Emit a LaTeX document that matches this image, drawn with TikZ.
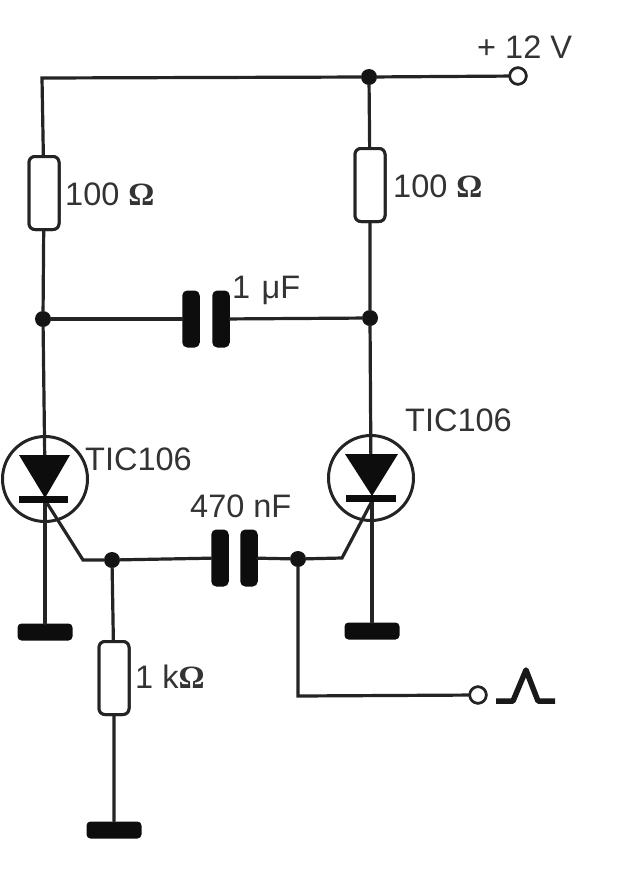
\documentclass[tikz,border=0pt]{standalone}
\usepackage{fontspec}
\setmainfont{Liberation Sans}
\newfontfamily\symfont{Liberation Serif}
\begin{document}
\begin{tikzpicture}[x=1pt,y=-1pt,
  wire/.style={line width=3.2pt,color=black!86,line cap=round,line join=miter},
  res/.style={draw=black!86,fill=white,line width=3pt,rounded corners=6pt,minimum width=30pt,minimum height=73pt,inner sep=0pt},
  dot/.style={circle,fill=black!92,inner sep=0pt,minimum size=16pt},
  term/.style={circle,draw=black!86,fill=white,line width=2.6pt,inner sep=0pt,minimum size=16.5pt},
  plate/.style={fill=black!95,rounded corners=5pt,inner sep=0pt,minimum width=17.5pt,minimum height=57pt},
  gnd/.style={fill=black!95,rounded corners=4pt,inner sep=0pt,minimum width=55pt,minimum height=17pt},
  ring/.style={circle,draw=black!86,line width=3pt,inner sep=0pt,minimum size=85pt},
  lab/.style={font=\fontsize{32.5}{34}\selectfont,color=black!80,inner sep=0pt,anchor=base west},
  sym/.style={fill=black!95}]
\useasboundingbox (0,0) rectangle (617,884);
\fill[white] (0,0) rectangle (617,884);
% nodes
\node[dot] (top) at (369,77) {};
\node[term] (vcc) at (518,76) {};
\coordinate (tl) at (42,78);
\node[res] (r1) at (44,193) {};
\node[res] (r2) at (370,185) {};
\node[res] (r3) at (114,678) {};
\node[dot] (a) at (43,319) {};
\node[dot] (b) at (370,318) {};
\node[plate] (c1a) at (191,319) {};
\node[plate] (c1b) at (221,319) {};
\node[ring] (t1) at (45,479) {};
\node[ring] (t2) at (371,478) {};
\node[gnd] (g1) at (45,632) {};
\node[gnd] (g2) at (372,631) {};
\node[gnd] (g3) at (114,830) {};
\node[dot] (j1) at (112,560) {};
\node[dot] (j2) at (298,559) {};
\node[plate] (c2a) at (220,558) {};
\node[plate] (c2b) at (249,558) {};
\node[term] (in) at (478,695) {};
\coordinate (ic) at (298,696);
\coordinate (k1) at (45,500);
\coordinate (k2) at (372,498);
\coordinate (g1a) at (47,503);
\coordinate (g1b) at (83,560);
\coordinate (g2a) at (371,503);
\coordinate (g2b) at (342,558);
% wires
\draw[wire] (vcc) -- (top) -- (tl) -- (r1);
\draw[wire] (top) -- (r2);
\draw[wire] (r1) -- (a) -- (t1.center);
\draw[wire] (r2) -- (b) -- (t2.center);
\draw[wire] (a) -- (c1a);
\draw[wire] (c1b) -- (b);
\draw[wire] (k1) -- (g1);
\draw[wire] (k2) -- (g2);
\draw[wire] (g1a) -- (g1b) -- (j1) -- (c2a);
\draw[wire] (c2b) -- (j2) -- (g2b) -- (g2a);
\draw[wire] (j1) -- (r3) -- (g3);
\draw[wire] (j2) -- (ic) -- (in);
% repaint components over wires
\node[res] at (r1) {};
\node[res] at (r2) {};
\node[res] at (r3) {};
\node[term] at (vcc) {};
\node[term] at (in) {};
% thyristors
\fill[sym] (19,455) -- (70,455) -- (45,498) -- cycle;
\fill[sym] (345,454) -- (398,454) -- (372,496) -- cycle;
\fill[sym] (19,496) rectangle (68,503);
\fill[sym] (346,495) rectangle (396,502);
% pulse
\draw[line width=5.5pt,color=black!90,line join=round] (496,701) -- (513,701) -- (526,670) -- (538,701) -- (555,701);
% labels
\node[lab] at (65,205) {100 {\symfont\bfseries Ω}};
\node[lab] at (393,197) {100 {\symfont\bfseries Ω}};
\node[lab] at (232,298) {1\hspace{0.35em}μF};
\node[lab] at (477,58) {+ 12 V};
\node[lab] at (405,431) {TIC106};
\node[lab] at (85,470) {TIC106};
\node[lab] at (190,517) {470 nF};
\node[lab] at (135,688) {1 k{\symfont\bfseries Ω}};
\end{tikzpicture}
\end{document}
